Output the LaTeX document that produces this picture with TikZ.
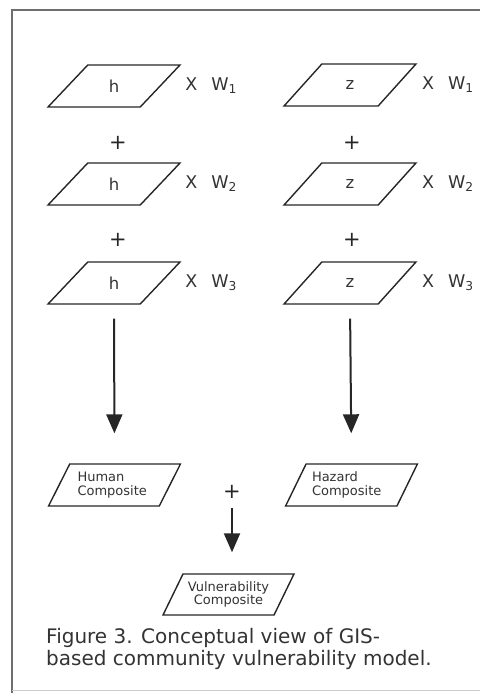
\documentclass[tikz,border=0pt]{standalone}
\usepackage{fontspec}
\setmainfont{DejaVu Sans}
\usetikzlibrary{arrows.meta,positioning,shapes.geometric}
\definecolor{InkGray}{HTML}{262626}
\definecolor{TextGray}{HTML}{333333}
\definecolor{FrameGray}{HTML}{6E6E6E}

\begin{document}
\begin{tikzpicture}[x=1pt, y=-1pt, >={Triangle[width=16pt,length=19pt]},
  layer/.style={trapezium, trapezium left angle=57, trapezium right angle=123,
    trapezium stretches=true, draw=InkGray, line width=1.4pt,
    minimum width=132pt, minimum height=42pt, inner sep=1pt,
    text=TextGray, font=\fontsize{16.5}{16.5}\selectfont},
  composite/.style={layer, font=\fontsize{13}{13.5}\selectfont, align=left},
  weight/.style={text=TextGray, inner sep=0pt, font=\fontsize{17.5}{17.5}\selectfont},
  plus/.style={text=InkGray, inner sep=0pt, font=\fontsize{21}{21}\selectfont},
  flow/.style={->, draw=InkGray, line width=2pt}]
  \useasboundingbox (0,0) rectangle (480,693);

  % frame
  \draw[FrameGray, line width=1.8pt] (480,10) -- (12,10) -- (12,693);
  \draw[FrameGray!35, line width=1pt] (12,690) -- (480,690);

  % human layers
  \node[layer] (h1) at (114,86) {h};
  \node[weight, right=24pt of h1] (wh1) {X\hspace{14pt}W\textsubscript{1}};
  \node[plus] (ph1) at (118,143) {+};
  \node[layer] (h2) at (114,184) {h};
  \node[weight, right=24pt of h2] (wh2) {X\hspace{14pt}W\textsubscript{2}};
  \node[plus] (ph2) at (118,240) {+};
  \node[layer] (h3) at (114,283) {h};
  \node[weight, right=24pt of h3] (wh3) {X\hspace{14pt}W\textsubscript{3}};

  % hazard layers
  \node[layer] (z1) at (350,85) {z};
  \node[weight, right=24pt of z1] (wz1) {X\hspace{14pt}W\textsubscript{1}};
  \node[plus] (pz1) at (352,143) {+};
  \node[layer] (z2) at (350,184) {z};
  \node[weight, right=24pt of z2] (wz2) {X\hspace{14pt}W\textsubscript{2}};
  \node[plus] (pz2) at (352,240) {+};
  \node[layer] (z3) at (350,283) {z};
  \node[weight, right=24pt of z3] (wz3) {X\hspace{14pt}W\textsubscript{3}};

  % composites
  \node[composite, text width=74pt] (hc) at (114.5,485) {Human\\Composite};
  \node[composite, text width=79pt] (zc) at (351.5,485) {Hazard\\Composite};
  \node[plus] (cp) at (232,492) {+};
  \node[composite, align=center, minimum width=131pt, minimum height=41pt]
    (vc) at (228.5,594.5) {Vulnerability\\Composite};

  \draw[flow, shorten <=14pt, shorten >=30pt] (h3.south) -- (hc.north);
  \draw[flow, shorten <=14pt, shorten >=30pt] (z3.south) -- (zc.north);
  \draw[flow, shorten <=9pt, shorten >=21pt] (cp.south) -- (cp.south |- vc.north);

  \node[anchor=north west, align=left, text=TextGray, inner sep=0pt,
    font=\fontsize{20}{22.5}\selectfont] (cap) at (46,628)
    {Figure 3. Conceptual view of GIS-\\based community vulnerability model.};
\end{tikzpicture}
\end{document}
